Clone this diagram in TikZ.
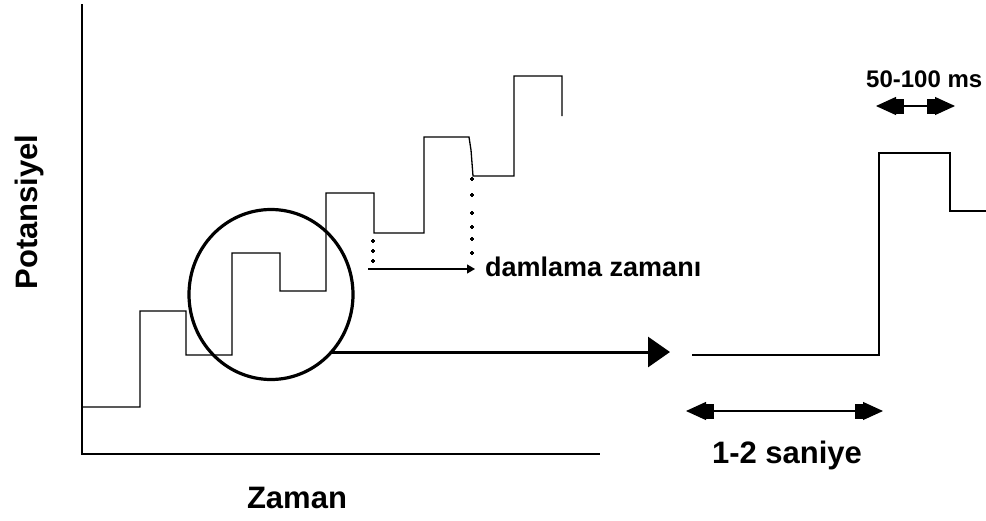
\documentclass[tikz,border=0pt]{standalone}
\usepackage{fontspec}
\setmainfont{Liberation Sans}
\usetikzlibrary{arrows.meta,shapes.geometric}

\tikzset{
  trace/.style={line width=1.3pt, line join=miter, line cap=butt},
  axis/.style={line width=1.3pt},
  lbl/.style={font=\bfseries\fontsize{#1}{#1}\selectfont, inner sep=0pt},
  zoomring/.style={draw, ellipse, line width=3.2pt, inner sep=0pt,
                   minimum width=164pt, minimum height=170pt},
  bigarrow/.style={line width=3pt, -{Triangle[length=22pt,width=30pt]}},
  droparrow/.style={line width=1.2pt, -{Triangle[length=8pt,width=9pt]}},
  dimarrow/.style={line width=1.2pt,
    {Triangle[length=20pt,width=18pt]Rectangle[length=8pt,width=15pt]}-{Rectangle[length=8pt,width=15pt]Triangle[length=20pt,width=18pt]}},
  pluspt/.style={line width=1.3pt}
}

\begin{document}
\begin{tikzpicture}[x=1pt,y=-1pt]
  \useasboundingbox (0,0) rectangle (986,520);

  % axes
  \coordinate (origin) at (82,454);
  \coordinate (ytop) at (82,4);
  \coordinate (xend) at (600,454);
  \draw[axis] (ytop) -- (origin) -- (xend);

  % staircase potential ramp
  \draw[trace] (82,407) -- (140,407) -- (140,311) -- (186,311) -- (186,355)
    -- (232,355) -- (232,253) -- (280,253) -- (280,291) -- (326,291)
    -- (326,193) -- (374,193) -- (374,233) -- (424,233) -- (424,137)
    -- (469,137) -- (471,150) -- (473,176) -- (514,176) -- (514,76)
    -- (562,76) -- (562,116);

  % magnified single pulse
  \draw[trace] (692,355) -- (879,355) -- (879,153) -- (950,153)
    -- (950,211) -- (986,211);

  % ring around one step
  \node[zoomring] (ring) at (271,294.5) {};

  % arrow from the ring to the magnified pulse
  \coordinate (bigA) at (331,352);
  \coordinate (bigB) at (670,352);
  \draw[bigarrow] (bigA) -- (bigB);

  % drop time markers
  \foreach \yy in {241,251,261}
    \draw[pluspt] (371,\yy) -- (375,\yy) (373,\yy-2) -- (373,\yy+2);
  \foreach \yy in {179,195,213,227,239,253}
    \draw[pluspt] (470,\yy) -- (474,\yy) (472,\yy-2) -- (472,\yy+2);
  \coordinate (dropA) at (368,269);
  \coordinate (dropB) at (475,269);
  \draw[droparrow] (dropA) -- (dropB);
  \node[lbl=27, anchor=base west] (droplbl) at (485,276) {damlama zamanı};

  % interval between pulses
  \coordinate (secA) at (686,411);
  \coordinate (secB) at (883,411);
  \draw[dimarrow] (secA) -- (secB);
  \node[lbl=31, anchor=base] (seclbl) at (787,463) {1-2 saniye};

  % pulse width
  \coordinate (msA) at (876,106);
  \coordinate (msB) at (955,106);
  \draw[dimarrow] (msA) -- (msB);
  \node[lbl=24, anchor=base west] (mslbl) at (866,87) {50-100 ms};

  % axis titles
  \node[lbl=31, anchor=base] (xlbl) at (297,508) {Zaman};
  \node[lbl=31, anchor=base, rotate=90] (ylbl) at (37,212) {Potansiyel};
\end{tikzpicture}
\end{document}
